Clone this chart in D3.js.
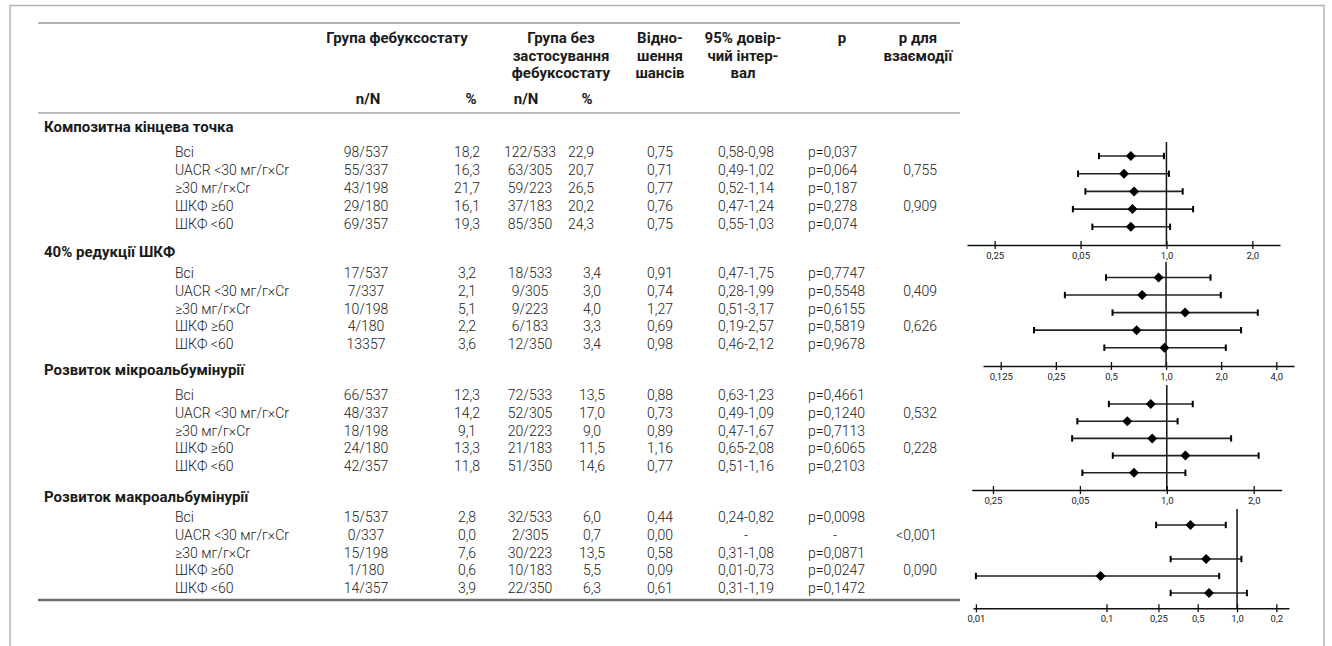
<!DOCTYPE html>
<html>
<head>
<meta charset="utf-8">
<script src="https://cdn.jsdelivr.net/npm/d3@7"></script>
<style>
  html, body { margin: 0; padding: 0; background: #fff; }
  svg { display: block; }
  text { font-family: Roboto, "Noto Sans", sans-serif; fill: #1a1a1a; }
</style>
</head>
<body>
<svg id="chart" width="1332" height="646"></svg>
<script>
// ---- data ----
const sections = ["Композитна кінцева точка", "40% редукції ШКФ", "Розвиток мікроальбумінурії", "Розвиток макроальбумінурії"];
const subgroups = ["Всі", "UACR <30 мг/г×Cr", "≥30 мг/г×Cr", "ШКФ ≥60", "ШКФ <60"];

const febuxostatN = [
  ["98/537", "55/337", "43/198", "29/180", "69/357"],
  ["17/537", "7/337", "10/198", "4/180", "13357"],
  ["66/537", "48/337", "18/198", "24/180", "42/357"],
  ["15/537", "0/337", "15/198", "1/180", "14/357"]
];
const febuxostatPct = [
  ["18,2", "16,3", "21,7", "16,1", "19,3"],
  ["3,2", "2,1", "5,1", "2,2", "3,6"],
  ["12,3", "14,2", "9,1", "13,3", "11,8"],
  ["2,8", "0,0", "7,6", "0,6", "3,9"]
];
const controlN = [
  ["122/533", "63/305", "59/223", "37/183", "85/350"],
  ["18/533", "9/305", "9/223", "6/183", "12/350"],
  ["72/533", "52/305", "20/223", "21/183", "51/350"],
  ["32/533", "2/305", "30/223", "10/183", "22/350"]
];
const controlPct = [
  ["22,9", "20,7", "26,5", "20,2", "24,3"],
  ["3,4", "3,0", "4,0", "3,3", "3,4"],
  ["13,5", "17,0", "9,0", "11,5", "14,6"],
  ["6,0", "0,7", "13,5", "5,5", "6,3"]
];
const oddsRatio = [
  [0.75, 0.71, 0.77, 0.76, 0.75],
  [0.91, 0.74, 1.27, 0.69, 0.98],
  [0.88, 0.73, 0.89, 1.16, 0.77],
  [0.44, 0.00, 0.58, 0.09, 0.61]
];
const ciLow = [
  [0.58, 0.49, 0.52, 0.47, 0.55],
  [0.47, 0.28, 0.51, 0.19, 0.46],
  [0.63, 0.49, 0.47, 0.65, 0.51],
  [0.24, null, 0.31, 0.01, 0.31]
];
const ciHigh = [
  [0.98, 1.02, 1.14, 1.24, 1.03],
  [1.75, 1.99, 3.17, 2.57, 2.12],
  [1.23, 1.09, 1.67, 2.08, 1.16],
  [0.82, null, 1.08, 0.73, 1.19]
];
const pValues = [
  ["p=0,037", "p=0,064", "p=0,187", "p=0,278", "p=0,074"],
  ["p=0,7747", "p=0,5548", "p=0,6155", "p=0,5819", "p=0,9678"],
  ["p=0,4661", "p=0,1240", "p=0,7113", "p=0,6065", "p=0,2103"],
  ["p=0,0098", "-", "p=0,0871", "p=0,0247", "p=0,1472"]
];
const pInteraction = [
  ["", "0,755", "", "0,909", ""],
  ["", "0,409", "", "0,626", ""],
  ["", "0,532", "", "0,228", ""],
  ["", "<0,001", "", "0,090", ""]
];

// axis ticks of each forest panel and the labels printed under them
const axisTicks = [
  [0.25, 0.5, 1, 2],
  [0.125, 0.25, 0.5, 1, 2, 4],
  [0.25, 0.5, 1, 2],
  [0.01, 0.1, 0.25, 0.5, 1, 2]
];
const axisTickLabels = [
  ["0,25", "0,05", "1,0", "2,0"],
  ["0,125", "0,25", "0,5", "1,0", "2,0", "4,0"],
  ["0,25", "0,05", "1,0", "2,0"],
  ["0,01", "0,1", "0,25", "0,5", "1,0", "0,2"]
];

// column headings
const headFeb = ["Група фебуксостату"];
const headCtrl = ["Група без", "застосування", "фебуксостату"];
const headOR = ["Відно-", "шення", "шансів"];
const headCI = ["95% довір-", "чий інтер-", "вал"];
const headP = ["p"];
const headPint = ["р для", "взаємодії"];
const headSub = ["n/N", "%"];

// ---- layout ----
const svg = d3.select("#chart");
const fmt2 = v => v.toFixed(2).replace(".", ",");
const boldSize = 15, bodySize = 14;

// outer frame
svg.append("rect").attr("x", 10).attr("y", 5.5).attr("width", 1314).attr("height", 700)
  .attr("fill", "none").attr("stroke", "#b3b3b3").attr("stroke-width", 1.5);

// table rules
const tableX0 = 38, tableX1 = 960;
svg.append("line").attr("x1", tableX0).attr("x2", tableX1).attr("y1", 23).attr("y2", 23)
  .attr("stroke", "#9a9a9a").attr("stroke-width", 1.5);
svg.append("line").attr("x1", tableX0).attr("x2", tableX1).attr("y1", 113).attr("y2", 113)
  .attr("stroke", "#a8a8a8").attr("stroke-width", 1.5);
svg.append("line").attr("x1", tableX0).attr("x2", tableX1).attr("y1", 600).attr("y2", 600)
  .attr("stroke", "#6e6e6e").attr("stroke-width", 2.5);

const col = { feb: 366, febPct: 467, ctrl: 530, ctrlPct: 592, or: 660, ci: 746, p: 808, pint: 937 };
const headLineY = d3.scaleLinear().domain([0, 1]).range([38, 55.3]);

function headBlock(lines, x) {
  lines.forEach((t, i) => {
    svg.append("text").attr("x", x).attr("y", headLineY(i)).attr("dy", "0.35em")
      .attr("text-anchor", "middle").attr("font-size", boldSize).attr("font-weight", 700).text(t);
  });
}
headBlock(headFeb, 397);
headBlock(headCtrl, 561);
headBlock(headOR, 660);
headBlock(headCI, 743);
headBlock(headP, 842);
headBlock(headPint, 918);
[[368, 0], [471, 1], [526, 0], [587, 1]].forEach(([x, k]) => {
  svg.append("text").attr("x", x).attr("y", 99).attr("dy", "0.35em").attr("text-anchor", "middle")
    .attr("font-size", boldSize).attr("font-weight", 700).text(headSub[k]);
});

// section row positions
const sectionHeadY = [127, 252, 370, 497];
const firstRowY = [152.5, 273, 395, 517];
const rowStep = 17.8;

sections.forEach((name, s) => {
  svg.append("text").attr("x", 44).attr("y", sectionHeadY[s]).attr("dy", "0.35em")
    .attr("font-size", boldSize).attr("font-weight", 700).text(name);

  const rowY = d3.scaleLinear().domain([0, 1]).range([firstRowY[s], firstRowY[s] + rowStep]);
  const g = svg.append("g").attr("font-size", bodySize).attr("font-weight", 300);

  subgroups.forEach((label, r) => {
    const y = rowY(r);
    const cell = (x, txt, anchor) => g.append("text").attr("x", x).attr("y", y).attr("dy", "0.35em")
      .attr("text-anchor", anchor).text(txt);
    cell(175, label, "start");
    cell(col.feb, febuxostatN[s][r], "middle");
    cell(col.febPct, febuxostatPct[s][r], "middle");
    cell(col.ctrl, controlN[s][r], "middle");
    cell(s === 0 ? col.ctrlPct - 11 : col.ctrlPct, controlPct[s][r], "middle");
    cell(col.or, fmt2(oddsRatio[s][r]), "middle");
    const lo = ciLow[s][r], hi = ciHigh[s][r];
    cell(col.ci, lo == null ? "-" : fmt2(lo) + "-" + fmt2(hi), "middle");
    if (pValues[s][r] === "-") cell(col.p + 27, "-", "middle");
    else cell(col.p, pValues[s][r], "start");
    if (pInteraction[s][r]) cell(col.pint, pInteraction[s][r], "end");
  });
});

// ---- forest panels ----
const panels = [
  { domain: [0.2, 2.5], range: [967, 1280], axisY: 245, refTop: 142, y0: 156, step: 17.7 },
  { domain: [0.1, 5], range: [983, 1294], axisY: 366, refTop: 262, y0: 277.5, step: 17.55 },
  { domain: [0.211, 2.5], range: [971.7, 1281.7], axisY: 490, refTop: 385, y0: 404, step: 17.2 },
  { domain: [0.0095, 2.5], range: [973, 1289], axisY: 608.3, refTop: 509, y0: 525, step: 17 }
];

panels.forEach((p, s) => {
  const x = d3.scaleLog().domain(p.domain).range(p.range);
  const y = d3.scaleLinear().domain([0, 1]).range([p.y0, p.y0 + p.step]);
  const g = svg.append("g");

  // axis
  const axis = d3.axisBottom(x).tickValues(axisTicks[s])
    .tickFormat((d, i) => axisTickLabels[s][i]).tickSizeInner(4).tickSizeOuter(0).tickPadding(3);
  const ag = g.append("g").attr("transform", `translate(0,${p.axisY})`).call(axis);
  ag.select(".domain").attr("stroke", "#111").attr("stroke-width", 1.5);
  ag.selectAll(".tick line").attr("y1", -4).attr("stroke", "#111").attr("stroke-width", 1.3);
  ag.selectAll(".tick text").attr("font-family", "Roboto, sans-serif").attr("font-size", 9.5).attr("fill", "#333");

  // line of no effect
  g.append("line").attr("x1", x(1)).attr("x2", x(1)).attr("y1", p.refTop).attr("y2", p.axisY)
    .attr("stroke", "#111").attr("stroke-width", 1.5);

  const rows = d3.range(subgroups.length).filter(r => ciLow[s][r] != null && oddsRatio[s][r] > 0);
  const cap = 3.2, half = 5;
  rows.forEach(r => {
    const cy = y(r), xl = x(ciLow[s][r]), xh = x(ciHigh[s][r]), xm = x(oddsRatio[s][r]);
    g.append("line").attr("x1", xl).attr("x2", xh).attr("y1", cy).attr("y2", cy)
      .attr("stroke", "#222").attr("stroke-width", 1.6);
    [xl, xh].forEach(cx => g.append("line").attr("x1", cx).attr("x2", cx)
      .attr("y1", cy - cap).attr("y2", cy + cap).attr("stroke", "#000").attr("stroke-width", 2));
    g.append("path")
      .attr("d", `M${xm},${cy - half}L${xm + half},${cy}L${xm},${cy + half}L${xm - half},${cy}Z`)
      .attr("fill", "#000");
  });
});
</script>
</body>
</html>
